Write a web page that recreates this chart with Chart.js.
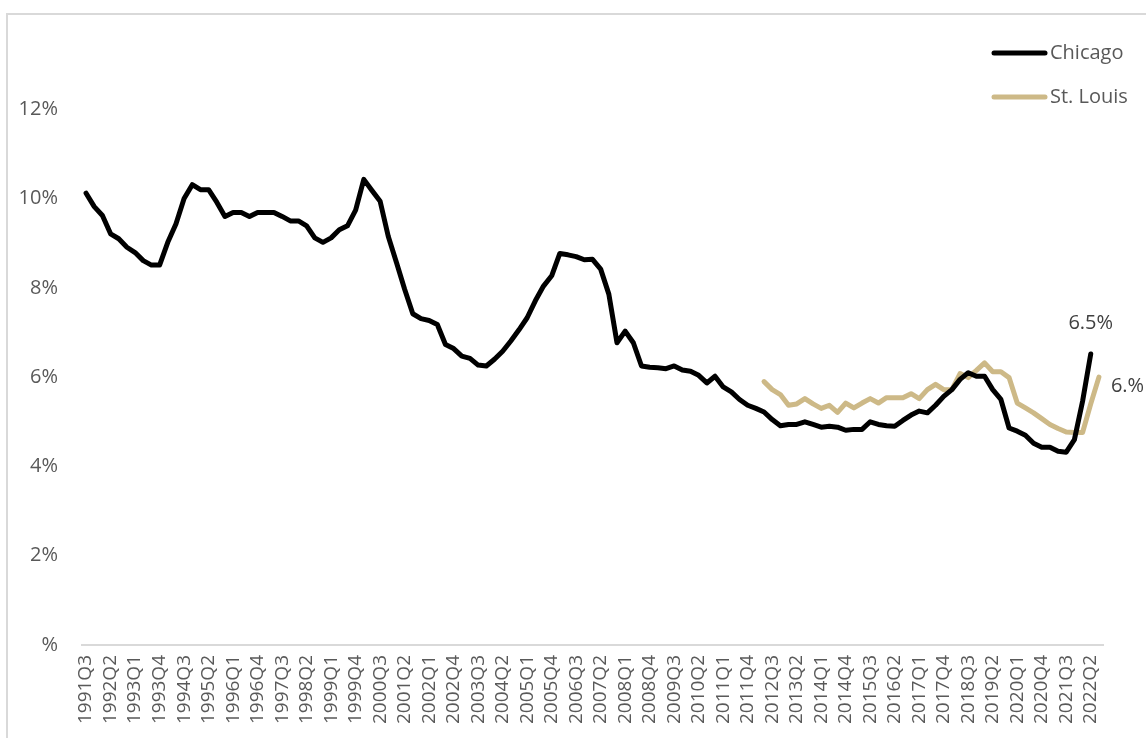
<!DOCTYPE html>
<html>
<head>
<meta charset="utf-8">
<script src="https://cdn.jsdelivr.net/npm/chart.js@4.4.1/dist/chart.umd.min.js"></script>
<style>
  body { margin: 0; background: #fff; overflow: hidden; }
  #wrap { position: relative; width: 1146px; height: 738px; }
  #frame { position: absolute; left: 6px; top: 13px; width: 2000px; height: 2000px;
           border-left: 2px solid #d9d9d9; border-top: 2px solid #d9d9d9; }
  canvas { position: absolute; left: 0; top: 0; }
</style>
</head>
<body>
<div id="wrap">
  <div id="frame"></div>
  <canvas id="chart" width="1146" height="738"></canvas>
</div>
<script>
// quarters 1991Q3 .. 2022Q3, every third one gets a tick label
const quarters = [];
for (let y = 1991, q = 3; y < 2022 || (y === 2022 && q <= 3); q++) {
  if (q > 4) { q = 1; y++; }
  if (y === 2022 && q > 3) break;
  quarters.push(y + "Q" + q);
}

const chicago = [
  10.12, 9.82, 9.62, 9.21, 9.10, 8.91, 8.79, 8.61, 8.51, 8.51,
  9.02, 9.43, 10.00, 10.31, 10.20, 10.20, 9.92, 9.60, 9.69, 9.69,
  9.60, 9.69, 9.69, 9.69, 9.60, 9.50, 9.50, 9.39, 9.12, 9.02,
  9.12, 9.30, 9.39, 9.74, 10.43, 10.18, 9.94, 9.15, 8.57, 7.97,
  7.42, 7.31, 7.27, 7.18, 6.73, 6.64, 6.47, 6.42, 6.27, 6.25,
  6.40, 6.58, 6.81, 7.06, 7.33, 7.71, 8.04, 8.27, 8.77, 8.74,
  8.70, 8.63, 8.64, 8.42, 7.86, 6.77, 7.03, 6.77, 6.25, 6.22,
  6.21, 6.19, 6.25, 6.16, 6.13, 6.04, 5.87, 6.02, 5.78, 5.67,
  5.50, 5.37, 5.30, 5.22, 5.05, 4.91, 4.94, 4.94, 5.00, 4.94,
  4.88, 4.90, 4.88, 4.81, 4.83, 4.83, 5.00, 4.94, 4.91, 4.90,
  5.03, 5.15, 5.24, 5.20, 5.37, 5.57, 5.72, 5.95, 6.10, 6.02,
  6.02, 5.72, 5.50, 4.86, 4.79, 4.70, 4.52, 4.43, 4.43, 4.34,
  4.32, 4.60, 5.46, 6.52, null
];

// St. Louis starts in 2012Q2
const stLouisStart = 83;
const stLouisValues = [
  5.90, 5.72, 5.61, 5.37, 5.40, 5.52, 5.40, 5.30, 5.37, 5.21,
  5.42, 5.31, 5.42, 5.52, 5.42, 5.54, 5.54, 5.54, 5.63, 5.52,
  5.72, 5.84, 5.72, 5.72, 6.08, 5.99, 6.15, 6.32, 6.12, 6.12,
  5.99, 5.42, 5.31, 5.20, 5.07, 4.94, 4.85, 4.77, 4.76, 4.76,
  5.40, 6.00
];
const stLouis = new Array(stLouisStart).fill(null).concat(stLouisValues);

const yTicks = [0, 2, 4, 6, 8, 10, 12];

const GREY = "#595959";
const FONT = '"Open Sans", "Noto Sans", sans-serif';

// Excel-style "#.#%" / "#%" formats
function pctOne(v) {
  const s = (Math.round(v * 10) / 10).toString();
  return (s.indexOf(".") < 0 ? s + "." : s) + "%";
}
function pctInt(v) {
  return (v === 0 ? "" : v) + "%";
}

const overlay = {
  id: "overlay",
  afterDraw(chart) {
    const ctx = chart.ctx;
    ctx.save();
    // legend, top right
    chart.data.datasets.forEach((ds, k) => {
      const y = 53 + k * 44;
      ctx.strokeStyle = ds.borderColor;
      ctx.lineWidth = 5;
      ctx.lineCap = "round";
      ctx.beginPath();
      ctx.moveTo(994, y);
      ctx.lineTo(1045, y);
      ctx.stroke();
      ctx.fillStyle = GREY;
      ctx.font = "20px " + FONT;
      ctx.textAlign = "left";
      ctx.textBaseline = "middle";
      ctx.fillText(ds.label, 1050, y);
    });
    // end value labels
    ctx.fillStyle = "#404040";
    ctx.font = "20px " + FONT;
    ctx.textBaseline = "middle";
    const m0 = chart.getDatasetMeta(0);
    const last0 = chicago.length - 2;
    const p0 = m0.data[last0];
    ctx.textAlign = "center";
    ctx.fillText(pctOne(chicago[last0]), p0.x, p0.y - 31);
    const m1 = chart.getDatasetMeta(1);
    const last1 = stLouis.length - 1;
    const p1 = m1.data[last1];
    ctx.textAlign = "left";
    ctx.fillText(pctOne(stLouis[last1]), p1.x + 12, p1.y + 9);
    ctx.restore();
  }
};

new Chart(document.getElementById("chart"), {
  type: "line",
  data: {
    labels: quarters,
    datasets: [
      { label: "Chicago", data: chicago, borderColor: "#000000", borderWidth: 5,
        pointRadius: 0, tension: 0, borderJoinStyle: "round", borderCapStyle: "round" },
      { label: "St. Louis", data: stLouis, borderColor: "#cdb987", borderWidth: 5,
        pointRadius: 0, tension: 0, borderJoinStyle: "round", borderCapStyle: "round" }
    ]
  },
  options: {
    responsive: false,
    animation: false,
    devicePixelRatio: 1,
    layout: { padding: { left: 0, right: 43, top: 20, bottom: 0 } },
    plugins: { legend: { display: false }, tooltip: { enabled: false } },
    scales: {
      x: {
        offset: true,
        grid: { display: false, drawTicks: false },
        border: { display: true, color: "#d9d9d9", width: 2 },
        ticks: {
          autoSkip: false, minRotation: 90, maxRotation: 90, padding: 10,
          color: GREY, font: { family: FONT, size: 19 },
          callback: (v, i) => (i % 3 === 0 ? quarters[i] : "")
        },
        afterFit: s => { s.height = 93; }
      },
      y: {
        min: 0, max: 14,
        grid: { display: false, drawTicks: false },
        border: { display: false },
        afterBuildTicks: s => { s.ticks = yTicks.map(v => ({ value: v })); },
        ticks: {
          padding: 24, color: GREY, font: { family: FONT, size: 20 },
          callback: v => pctInt(v)
        },
        afterFit: s => { s.width = 82; s.paddingTop = 0; s.paddingBottom = 0; }
      }
    }
  },
  plugins: [overlay]
});
</script>
</body>
</html>
